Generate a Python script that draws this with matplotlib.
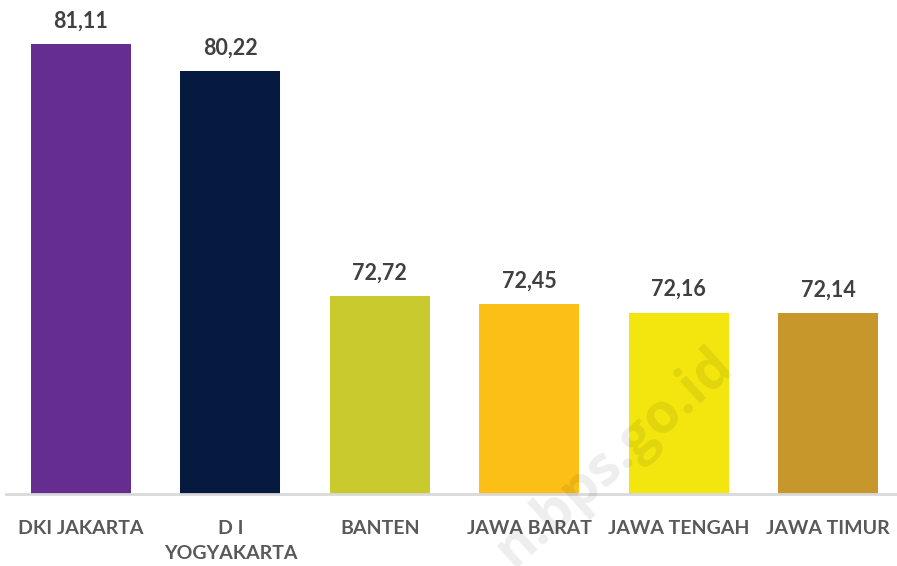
import matplotlib
matplotlib.use("Agg")
import matplotlib.pyplot as plt

categories = ["DKI JAKARTA", "D I\nYOGYAKARTA", "BANTEN", "JAWA BARAT", "JAWA TENGAH", "JAWA TIMUR"]
values = [81.11, 80.22, 72.72, 72.45, 72.16, 72.14]
value_labels = ["81,11", "80,22", "72,72", "72,45", "72,16", "72,14"]
colors = ["#662D91", "#061A40", "#C9CA2D", "#FBBF16", "#F2E60E", "#C8972B"]

W, H = 897, 566
fig = plt.figure(figsize=(W / 100, H / 100), dpi=100)
left_px, right_px = 6.3, 902.7
top_px, base_px = 0, 494
ax = fig.add_axes([left_px / W, (H - base_px) / H, (right_px - left_px) / W, (base_px - top_px) / H])

ymin, ymax = 66.11, 82.58
x = list(range(len(categories)))
ax.bar(x, [v - ymin for v in values], bottom=ymin, width=0.67, color=colors, zorder=2)
ax.set_xlim(-0.5, len(categories) - 0.5)
ax.set_ylim(ymin, ymax)

for xi, v, lab in zip(x, values, value_labels):
    ax.annotate(lab, (xi, v), xytext=(0, 9), textcoords="offset points", ha="center", va="bottom",
                fontsize=15.5, fontweight="bold", color="#404040", family="Lato")

for s in ["top", "right", "left"]:
    ax.spines[s].set_visible(False)
ax.spines["bottom"].set_color("#D9D9D9")
ax.spines["bottom"].set_linewidth(2)
ax.set_yticks([])
ax.set_xticks(x)
ax.set_xticklabels(categories, fontsize=14, fontweight="bold", color="#595959", family="Lato", linespacing=1.55, va="top")
ax.tick_params(axis="x", length=0, pad=19)

fig.text(0.83, 0.405, "n.bps.go.id", rotation=42, ha="right", va="top", fontsize=40, fontweight="bold",
         color="#000000", alpha=0.07, family="Open Sans", zorder=5)

fig.savefig("out.png", dpi=100)
